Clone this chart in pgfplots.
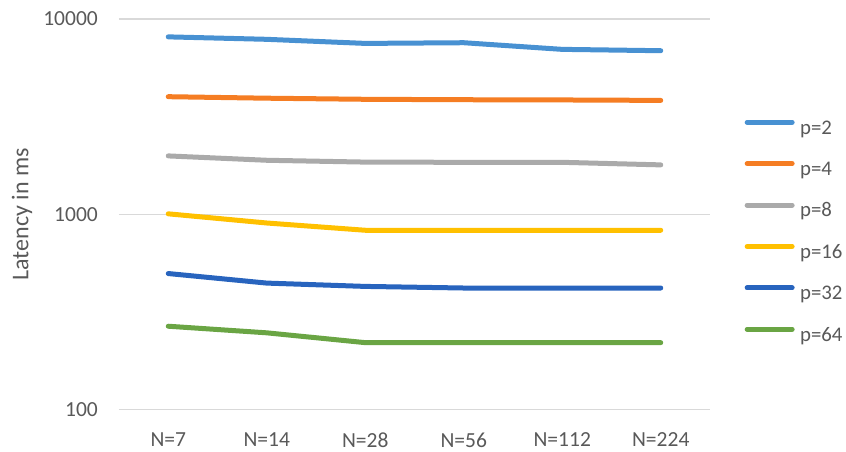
\documentclass[border=0pt]{standalone}
\usepackage{pgfplots}
\pgfplotsset{compat=1.18}
\usepackage{fontspec}
\setmainfont{Carlito}
\definecolor{txt}{RGB}{89,89,89}
\definecolor{gridc}{RGB}{217,217,217}
\definecolor{cA}{RGB}{72,145,210}
\definecolor{cB}{RGB}{245,125,35}
\definecolor{cC}{RGB}{170,170,170}
\definecolor{cD}{RGB}{255,192,0}
\definecolor{cE}{RGB}{40,100,190}
\definecolor{cF}{RGB}{106,165,68}
\begin{document}
\begin{tikzpicture}
\path[use as bounding box] (0,0) rectangle (846pt,451pt);
\begin{axis}[
  at={(119pt,41.5pt)}, anchor=south west,
  scale only axis, width=591pt, height=390.5pt,
  ymode=log, ymin=100, ymax=10000,
  xmin=-0.5, xmax=5.5,
  xtick={0,1,2,3,4,5}, xticklabels={N=7,N=14,N=28,N=56,N=112,N=224},
  ytick={100,1000,10000}, yticklabels={100,1000,10000},
  yminorticks=false,
  ymajorgrids, major grid style={line width=1.3pt, color=gridc},
  axis line style={draw=none}, major tick length=0pt,
  tick label style={font=\fontsize{21.5}{25}\selectfont, text=txt, inner sep=0pt},
  xticklabel style={anchor=north, yshift=-23pt},
  yticklabel style={anchor=east, xshift=-21pt},
  ylabel={Latency in ms},
  ylabel style={font=\fontsize{24}{28}\selectfont, text=txt, at={(axis description cs:-0.1641,0.5)}, anchor=center},
  legend cell align=left,
  legend style={at={(axis description cs:1.0583,0.7424)}, anchor=north west, draw=none, fill=none, inner sep=0pt,
    font=\fontsize{20.8}{25}\selectfont, text=txt, row sep=23pt,
    nodes={inner sep=0pt, text height=14pt, text depth=4pt},
    /tikz/every odd column/.append style={column sep=5.5pt}},
  legend image code/.code={\draw[#1, line width=5pt, line cap=round] (0pt,6.9pt) -- (45pt,6.9pt);},
  every axis plot/.append style={line width=5pt, line cap=round, line join=round, no marks},
]
\addplot[cA] coordinates {(0,8100) (1,7870) (2,7500) (3,7560) (4,6990) (5,6880)};
\addlegendentry{p=2}
\addplot[cB] coordinates {(0,4000) (1,3930) (2,3880) (3,3860) (4,3850) (5,3830)};
\addlegendentry{p=4}
\addplot[cC] coordinates {(0,1990) (1,1890) (2,1850) (3,1845) (4,1845) (5,1790)};
\addlegendentry{p=8}
\addplot[cD] coordinates {(0,1005) (1,902) (2,828) (3,828) (4,828) (5,828)};
\addlegendentry{p=16}
\addplot[cE] coordinates {(0,497) (1,444) (2,427) (3,419) (4,419) (5,419)};
\addlegendentry{p=32}
\addplot[cF] coordinates {(0,267) (1,247) (2,220) (3,220) (4,220) (5,220)};
\addlegendentry{p=64}
\end{axis}
\end{tikzpicture}
\end{document}
